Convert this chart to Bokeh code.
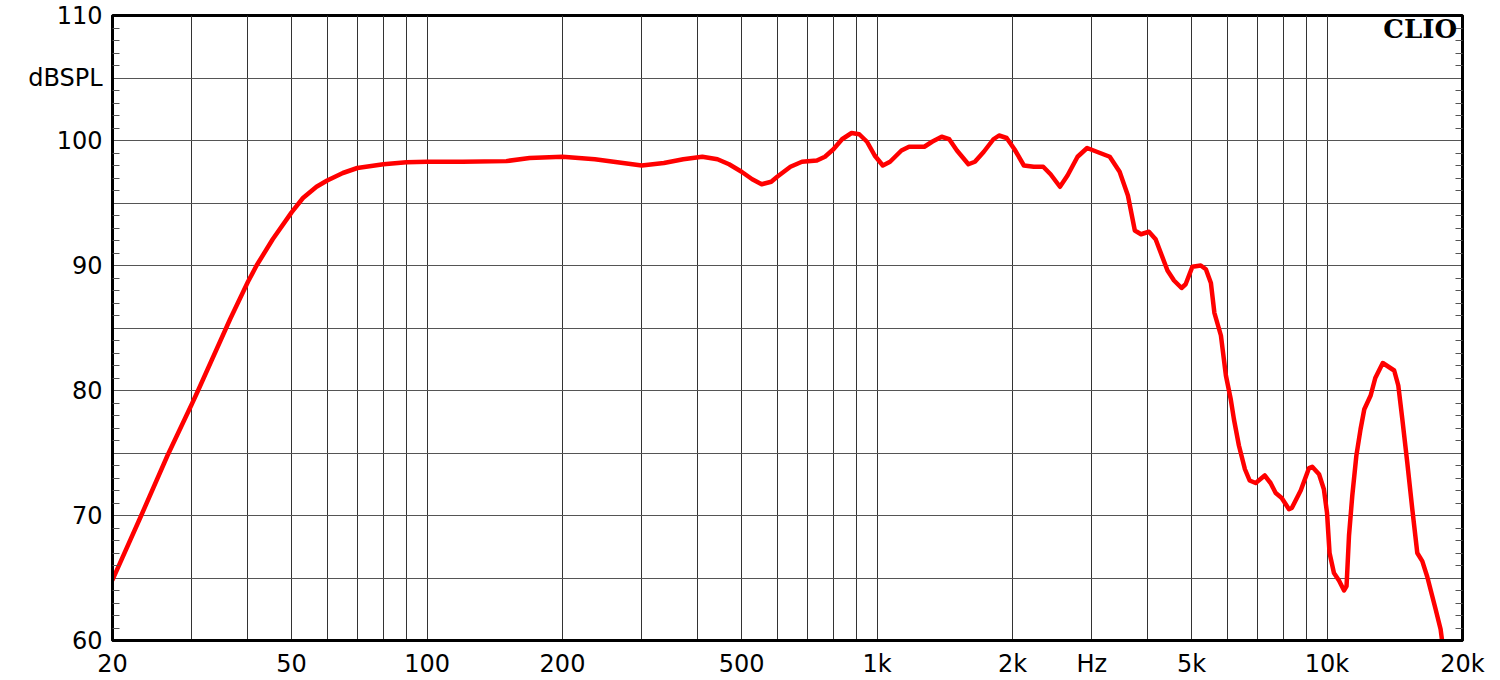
from bokeh.plotting import figure
from bokeh.models import FixedTicker, LinearAxis, Label, ColumnDataSource
from bokeh.embed import file_html
from bokeh.resources import INLINE

# ---- data ----
freq_hz = [20, 23.1, 26.5, 30, 30.9, 36.5, 40, 41.8, 45.4, 50, 53, 56.8, 60, 65, 70, 80, 90,
           100, 120, 150, 169, 200, 236, 300, 336, 371, 409, 442, 469, 500, 528, 554, 582,
           600, 642, 681, 735, 766, 800, 836, 878, 913, 950, 988, 1030, 1069, 1133, 1178,
           1274, 1325, 1392, 1447, 1505, 1596, 1650, 1727, 1814, 1867, 1941, 2020, 2120,
           2230, 2340, 2430, 2550, 2650, 2790, 2930, 3130, 3290, 3460, 3610, 3740, 3860,
           4020, 4160, 4420, 4570, 4750, 4850, 5020, 5240, 5380, 5520, 5620, 5810, 5960,
           6110, 6210, 6370, 6570, 6730, 6940, 7270, 7490, 7690, 7930, 8230, 8350, 8740,
           9120, 9270, 9600, 9840, 10000, 10130, 10360, 10630, 10910, 11050, 11190, 11380,
           11620, 11870, 12100, 12500, 12800, 13300, 14100, 14400, 14700, 15080, 15470,
           15870, 16280, 16700, 17430, 17880, 18000]
spl_db = [64.85, 69.9, 74.8, 78.9, 79.9, 85.7, 88.7, 90.0, 92.1, 94.25, 95.4, 96.3, 96.8, 97.4, 97.8, 98.1, 98.26,
          98.3, 98.3, 98.35, 98.6, 98.7, 98.5, 98.0, 98.2, 98.5, 98.7, 98.5, 98.1, 97.5, 96.9, 96.5, 96.7,
          97.1, 97.9, 98.3, 98.4, 98.7, 99.3, 100.1, 100.6, 100.5, 99.9, 98.8, 98.0, 98.3, 99.2, 99.5,
          99.5, 99.9, 100.3, 100.1, 99.2, 98.1, 98.3, 99.1, 100.1, 100.4, 100.2, 99.3, 98.0,
          97.9, 97.9, 97.3, 96.3, 97.2, 98.7, 99.4, 99.0, 98.7, 97.5, 95.6, 92.8, 92.5,
          92.7, 92.1, 89.6, 88.8, 88.2, 88.5, 89.9, 90.0, 89.7, 88.6, 86.2, 84.4, 81.2,
          79.3, 77.7, 75.6, 73.7, 72.8, 72.6, 73.2, 72.6, 71.8, 71.4, 70.5, 70.6, 72.0,
          73.8, 73.9, 73.3, 72.1, 70.2, 67.0, 65.4, 64.8, 64.0, 64.35, 68.4, 71.6,
          74.8, 76.9, 78.5, 79.6, 81.0, 82.2, 81.6, 80.4, 77.7, 74.2, 70.5,
          67.0, 66.35, 65.1, 62.5, 60.9, 60.1]

x_tick_values = [20, 30, 40, 50, 60, 70, 80, 90, 100, 200, 300, 400, 500, 600, 700, 800, 900,
                 1000, 2000, 3000, 4000, 5000, 6000, 7000, 8000, 9000, 10000, 20000]
x_tick_labels = ["20", "", "", "50", "", "", "", "", "100", "200", "", "", "500", "", "", "", "",
                 "1k", "2k", "Hz", "", "5k", "", "", "", "", "10k", "20k"]
y_tick_values = [60, 65, 70, 75, 80, 85, 90, 95, 100, 105, 110]
y_tick_labels = ["60", "", "70", "", "80", "", "90", "", "100", "dBSPL", "110"]
y_minor_values = [v for v in range(61, 110) if v % 5 != 0]
brand_text = "CLIO"

FONT = "DejaVu Sans"
FSIZE = "24px"

p = figure(frame_width=1350, frame_height=625, x_axis_type="log",
           x_range=(20, 20000), y_range=(60, 110),
           output_backend="svg", toolbar_location=None,
           min_border_left=112, min_border_right=29, min_border_top=15, min_border_bottom=20,
           background_fill_color="white", border_fill_color="white")

p.outline_line_color = "black"
p.outline_line_width = 3

xticker = FixedTicker(ticks=x_tick_values, minor_ticks=[])
yticker = FixedTicker(ticks=y_tick_values, minor_ticks=y_minor_values)

# bottom axis
xa = p.xaxis[0]
xa.ticker = xticker
xa.major_label_overrides = {v: l for v, l in zip(x_tick_values, x_tick_labels)}
xa.axis_line_color = "black"
xa.axis_line_width = 3
xa.major_tick_line_color = None
xa.minor_tick_line_color = None
xa.major_tick_in = 0
xa.major_tick_out = 0
xa.major_label_standoff = 9
xa.major_label_text_font = FONT
xa.major_label_text_font_size = FSIZE
xa.major_label_text_color = "black"

# left axis
ya = p.yaxis[0]
ya.ticker = yticker
ya.major_label_overrides = {v: l for v, l in zip(y_tick_values, y_tick_labels)}
ya.axis_line_color = "black"
ya.axis_line_width = 3
ya.major_tick_line_color = None
ya.major_tick_in = 0
ya.major_tick_out = 0
ya.minor_tick_in = 7
ya.minor_tick_out = 0
ya.minor_tick_line_color = "#555555"
ya.minor_tick_line_width = 1
ya.major_label_standoff = 10
ya.major_label_text_font = FONT
ya.major_label_text_font_size = FSIZE
ya.major_label_text_color = "black"

# right axis (minor ticks only)
ra = LinearAxis(ticker=yticker)
ra.major_label_overrides = {v: "" for v in y_tick_values}
ra.major_label_text_font_size = "0px"
ra.axis_line_color = "black"
ra.axis_line_width = 3
ra.major_tick_line_color = None
ra.major_tick_in = 0
ra.major_tick_out = 0
ra.minor_tick_in = 7
ra.minor_tick_out = 0
ra.minor_tick_line_color = "#555555"
ra.major_label_standoff = 0
p.add_layout(ra, "right")

# grids
p.xgrid.ticker = xticker
p.ygrid.ticker = yticker
p.xgrid.grid_line_color = "#333333"
p.xgrid.grid_line_width = 1
p.ygrid.grid_line_color = "#555555"
p.ygrid.grid_line_width = 1.2

src = ColumnDataSource(dict(f=freq_hz, db=spl_db))
p.line("f", "db", source=src, line_color="#ff0000", line_width=4.5,
       line_join="round", line_cap="round")

p.add_layout(Label(x=19450, y=108.95, text=brand_text, text_align="right",
                   text_baseline="alphabetic", text_font="DejaVu Serif",
                   text_font_style="bold", text_font_size="26px", text_color="black"))

open("out.html", "w").write(file_html(p, INLINE))
